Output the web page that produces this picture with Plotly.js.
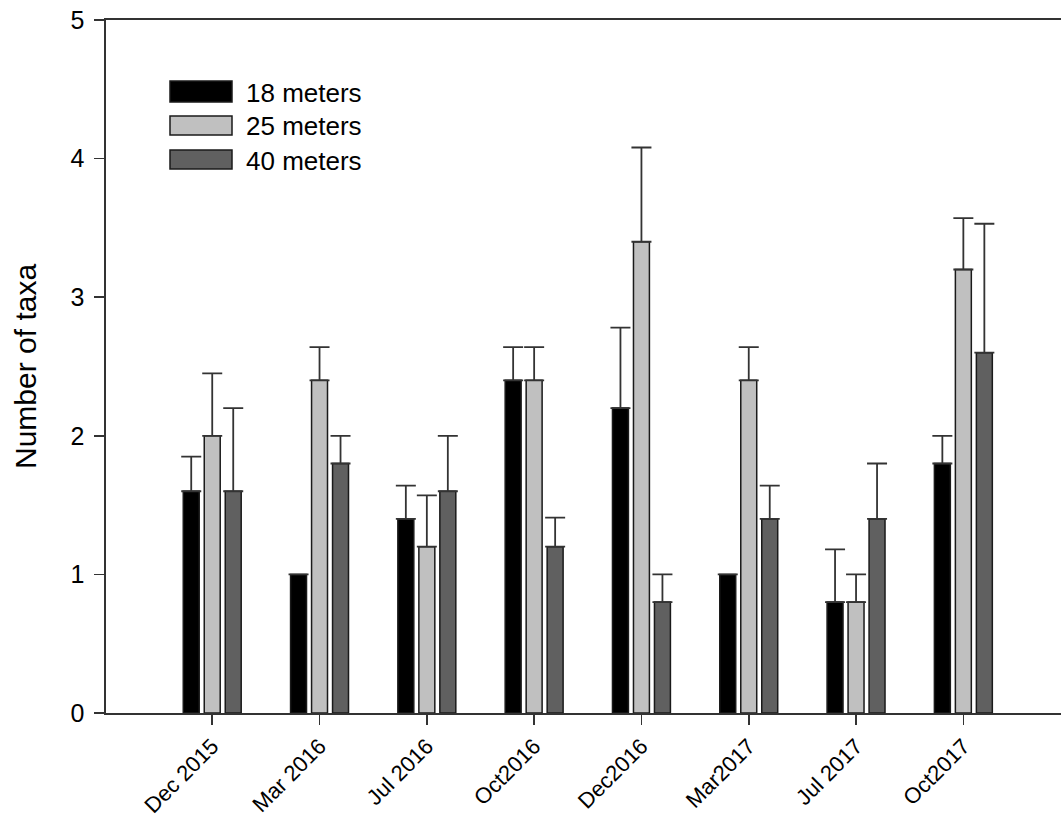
<!DOCTYPE html>
<html>
<head>
<meta charset="utf-8">
<script src="https://cdn.plot.ly/plotly-3.0.1.min.js"></script>
<style>html,body{margin:0;padding:0;background:#fff;}#chart{width:1061px;height:819px;}</style>
</head>
<body>
<div id="chart"></div>
<script>
// Categories (sampling dates)
const categories = ["Dec 2015", "Mar 2016", "Jul 2016", "Oct2016", "Dec2016", "Mar2017", "Jul 2017", "Oct2017"];

// Mean number of taxa per depth
const depth18 = [1.6, 1.0, 1.4, 2.4, 2.2, 1.0, 0.8, 1.8];
const depth25 = [2.0, 2.4, 1.2, 2.4, 3.4, 2.4, 0.8, 3.2];
const depth40 = [1.6, 1.8, 1.6, 1.2, 0.8, 1.4, 1.4, 2.6];

// Upper error (SE) per depth; null = no error bar
const err18 = [0.25, null, 0.24, 0.24, 0.58, null, 0.38, 0.2];
const err25 = [0.45, 0.24, 0.37, 0.24, 0.68, 0.24, 0.2, 0.37];
const err40 = [0.6, 0.2, 0.4, 0.21, 0.2, 0.24, 0.4, 0.93];

const seriesNames = ["18 meters", "25 meters", "40 meters"];
const yTicks = [0, 1, 2, 3, 4, 5];
const yTitle = "Number of taxa";

const colors = ["#000000", "#c0c0c0", "#606060"];
const toNaN = a => a.map(v => v === null ? NaN : v);
const zeros = n => new Array(n).fill(0);

function makeTrace(y, err, i) {
  return {
    type: "bar",
    name: seriesNames[i],
    x: categories,
    y: y,
    marker: {color: colors[i], line: {color: "#1a1a1a", width: 1.5}},
    error_y: {
      type: "data", symmetric: false,
      array: toNaN(err), arrayminus: zeros(err.length),
      color: "#333333", thickness: 1.8, width: 10
    },
    showlegend: false,
    hoverinfo: "x+y"
  };
}

const data = [
  makeTrace(depth18, err18, 0),
  makeTrace(depth25, err25, 1),
  makeTrace(depth40, err40, 2)
];

// Custom legend (large swatches like the original)
const L = {l: 106, t: 20, w: 955, h: 693};
const px = v => (v - L.l) / L.w;
const py = v => (L.t + L.h - v) / L.h;
const legendRows = [[81, 102], [116, 135], [150, 169]];
const shapes = [];
const annotations = [];
legendRows.forEach((r, i) => {
  shapes.push({type: "rect", xref: "paper", yref: "paper",
    x0: px(170), x1: px(232), y0: py(r[1]), y1: py(r[0]),
    fillcolor: colors[i], line: {color: "#1a1a1a", width: 1.5}});
  annotations.push({xref: "paper", yref: "paper", x: px(244), y: py((r[0] + r[1]) / 2 + 1),
    xanchor: "left", yanchor: "middle", text: seriesNames[i], showarrow: false,
    font: {family: "Liberation Sans, Arial, sans-serif", size: 26, color: "#000"}});
});
// Y axis title
annotations.push({xref: "paper", yref: "paper", x: px(26), y: py(367),
  xanchor: "center", yanchor: "middle", textangle: -90, text: yTitle, showarrow: false,
  font: {family: "Liberation Sans, Arial, sans-serif", size: 30, color: "#000"}});

const layout = {
  width: 1061, height: 819,
  margin: {l: 106, r: 0, t: 20, b: 106, pad: 0},
  paper_bgcolor: "#ffffff", plot_bgcolor: "#ffffff",
  font: {family: "Liberation Sans, Arial, sans-serif", color: "#000"},
  barmode: "group", bargap: 0.413, bargroupgap: 0.24,
  xaxis: {
    type: "category", range: [-0.99, 7.91],
    showline: true, linecolor: "#333", linewidth: 1.6, mirror: true,
    ticks: "outside", ticklen: 10, tickwidth: 1.5, tickcolor: "#333",
    tickangle: -45, tickfont: {size: 22, color: "#000"},
    showgrid: false, zeroline: false, automargin: false
  },
  yaxis: {
    range: [0, 5], tickvals: yTicks, ticktext: yTicks.map(String),
    showline: true, linecolor: "#333", linewidth: 1.6, mirror: false,
    ticks: "outside", ticklen: 10, tickwidth: 1.5, tickcolor: "#333",
    tickfont: {size: 25, color: "#000"}, ticklabelstandoff: 5,
    showgrid: false, zeroline: false, automargin: false
  },
  shapes: shapes,
  annotations: annotations
};

Plotly.newPlot("chart", data, layout, {displayModeBar: false, staticPlot: true});
</script>
</body>
</html>
